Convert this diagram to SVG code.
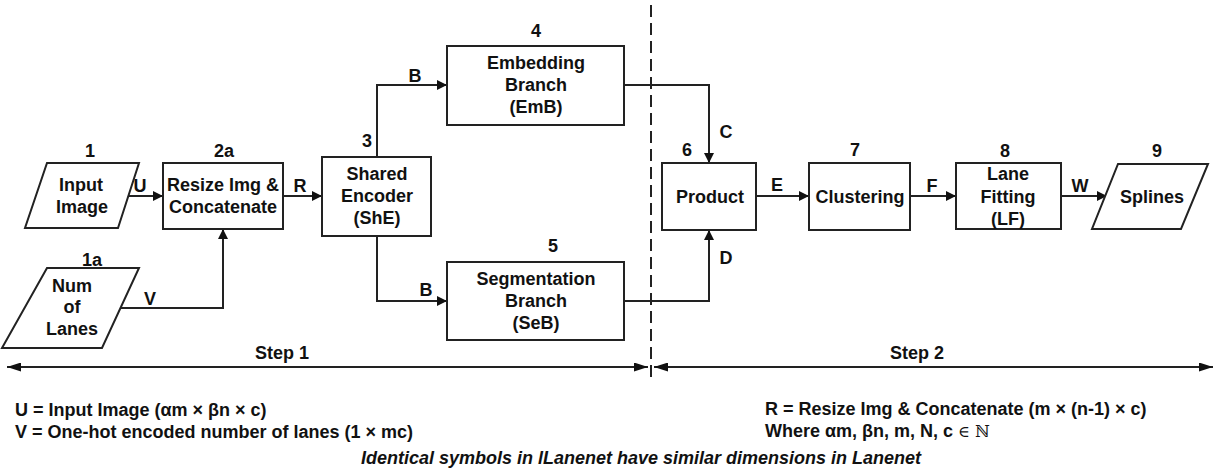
<svg xmlns="http://www.w3.org/2000/svg" width="1217" height="473" viewBox="0 0 1217 473">
<defs>
<style>
text{font-family:"Liberation Sans",Arial,sans-serif;font-weight:bold;font-size:18px;fill:#111;text-anchor:middle}
.box{fill:#fff;stroke:#222;stroke-width:2}
.conn{fill:none;stroke:#222;stroke-width:2}
.left{text-anchor:start}
.it{font-style:italic}
</style>
<marker id="ah" viewBox="0 0 10 10" refX="10" refY="5" markerWidth="10" markerHeight="10" markerUnits="userSpaceOnUse" orient="auto">
<path d="M0,0 L10,5 L0,10 z" fill="#111"/>
</marker>
<marker id="sh" viewBox="0 0 14 9" refX="14" refY="4.5" markerWidth="14" markerHeight="9" markerUnits="userSpaceOnUse" orient="auto-start-reverse">
<path d="M0,0 L14,4.5 L0,9 z" fill="#111"/>
</marker>
</defs>
<rect width="1217" height="473" fill="#fff"/>

<g id="connectors">
<path class="conn" d="M129,196 H163" marker-end="url(#ah)"/>
<path class="conn" d="M120,308 H223 V229" marker-end="url(#ah)"/>
<path class="conn" d="M283,196 H322" marker-end="url(#ah)"/>
<path class="conn" d="M377,157 V85 H447" marker-end="url(#ah)"/>
<path class="conn" d="M377,236 V301 H447" marker-end="url(#ah)"/>
<path class="conn" d="M624,85 H709 V163" marker-end="url(#ah)"/>
<path class="conn" d="M624,301 H709 V230" marker-end="url(#ah)"/>
<path class="conn" d="M756,196 H809" marker-end="url(#ah)"/>
<path class="conn" d="M910,196 H956" marker-end="url(#ah)"/>
<path class="conn" d="M1061,196 H1107" marker-end="url(#ah)"/>
<text x="140" y="192">U</text>
<text x="150" y="305">V</text>
<text x="300" y="192">R</text>
<text x="415" y="82">B</text>
<text x="426" y="296">B</text>
<text x="726" y="138">C</text>
<text x="726" y="264">D</text>
<text x="777" y="191">E</text>
<text x="932" y="192">F</text>
<text x="1080" y="192">W</text>
</g>

<g id="divider">
<line x1="651" y1="5" x2="651" y2="378" stroke="#222" stroke-width="2" stroke-dasharray="12 6"/>
<line x1="7" y1="367" x2="648" y2="367" stroke="#222" stroke-width="2" marker-start="url(#sh)" marker-end="url(#sh)"/>
<line x1="654" y1="367" x2="1213" y2="367" stroke="#222" stroke-width="2" marker-start="url(#sh)" marker-end="url(#sh)"/>
<text x="282" y="359">Step 1</text>
<text x="917" y="359">Step 2</text>
</g>

<g id="n1">
<polygon class="box" points="47,163 139,163 118,228 25,228"/>
<text x="90" y="157">1</text>
<text x="81" y="191">Input</text>
<text x="82" y="213">Image</text>
</g>

<g id="n1a">
<polygon class="box" points="47,268 139,268 102,348 2,348"/>
<text x="92" y="266">1a</text>
<text x="72" y="292">Num</text>
<text x="72" y="313">of</text>
<text x="72" y="335">Lanes</text>
</g>

<g id="n2a">
<rect class="box" x="163" y="163" width="120" height="66"/>
<text x="224" y="157">2a</text>
<text x="223" y="191">Resize Img &amp;</text>
<text x="223" y="213">Concatenate</text>
</g>

<g id="n3">
<rect class="box" x="322" y="157" width="109" height="79"/>
<text x="367" y="147">3</text>
<text x="377" y="180">Shared</text>
<text x="377" y="202">Encoder</text>
<text x="377" y="224">(ShE)</text>
</g>

<g id="n4">
<rect class="box" x="447" y="46" width="177" height="79"/>
<text x="536" y="37">4</text>
<text x="536" y="69">Embedding</text>
<text x="536" y="91">Branch</text>
<text x="536" y="113">(EmB)</text>
</g>

<g id="n5">
<rect class="box" x="447" y="262" width="177" height="78"/>
<text x="553" y="252">5</text>
<text x="536" y="285">Segmentation</text>
<text x="536" y="307">Branch</text>
<text x="536" y="329">(SeB)</text>
</g>

<g id="n6">
<rect class="box" x="662" y="163" width="94" height="67"/>
<text x="687" y="156">6</text>
<text x="710" y="203">Product</text>
</g>

<g id="n7">
<rect class="box" x="809" y="163" width="101" height="67"/>
<text x="855" y="156">7</text>
<text x="860" y="203">Clustering</text>
</g>

<g id="n8">
<rect class="box" x="956" y="163" width="105" height="66"/>
<text x="1005" y="157">8</text>
<text x="1008" y="180">Lane</text>
<text x="1008" y="203">Fitting</text>
<text x="1008" y="225">(LF)</text>
</g>

<g id="n9">
<polygon class="box" points="1118,164 1208,164 1181,229 1092,229"/>
<text x="1157" y="157">9</text>
<text x="1152" y="203">Splines</text>
</g>

<g id="legend">
<text class="left" x="15" y="416">U = Input Image (αm × βn × c)</text>
<text class="left" x="15" y="438">V = One-hot encoded number of lanes (1 × mc)</text>
<text class="left" x="765" y="415">R = Resize Img &amp; Concatenate (m × (n-1) × c)</text>
<text class="left" x="765" y="437">Where αm, βn, m, N, c <tspan font-weight="normal" font-family="'DejaVu Serif',serif" font-size="16">∈ ℕ</tspan></text>
<text class="it" x="641" y="464">Identical symbols in lLanenet have similar dimensions in Lanenet</text>
</g>
</svg>
